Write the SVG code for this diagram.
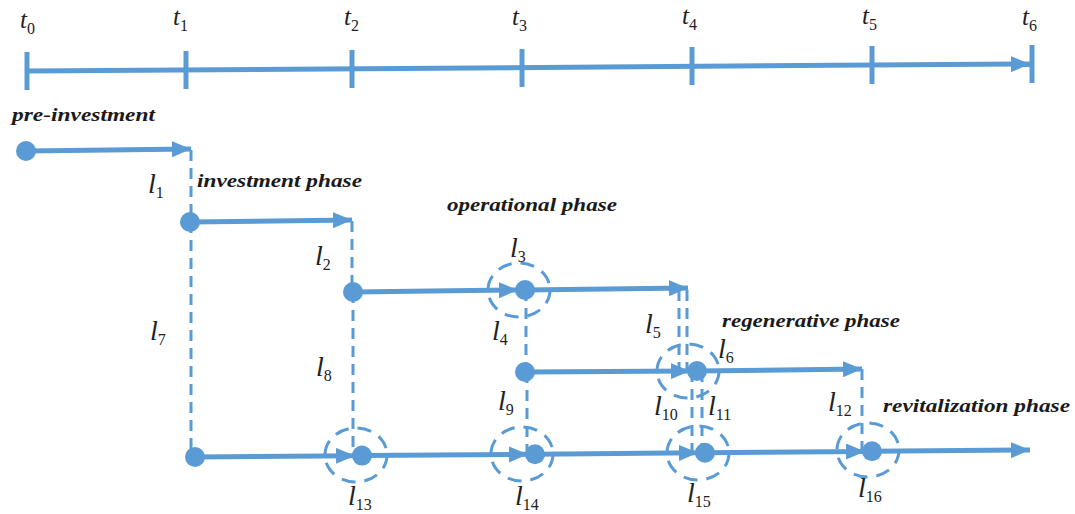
<svg xmlns="http://www.w3.org/2000/svg" width="1075" height="514" viewBox="0 0 1075 514">
<defs>
<style>
.ln{stroke:#5b9bd5;stroke-width:5;fill:none}
.tk{stroke:#5b9bd5;stroke-width:5;fill:none}
.ds{stroke:#5b9bd5;stroke-width:3;fill:none;stroke-dasharray:11 7}
.ring{stroke:#5b9bd5;stroke-width:3;fill:none;stroke-dasharray:14 9}
.dot{fill:#5b9bd5}
.var{font-family:"Liberation Serif",serif;font-style:italic;font-size:28px;fill:#222}
.tv{font-family:"Liberation Serif",serif;font-style:italic;font-size:25px;fill:#222}
.sub{font-style:normal;font-size:16px}
.ph{font-family:"Liberation Serif",serif;font-style:italic;font-weight:bold;font-size:19px;fill:#1a1a1a}
</style>
<marker id="ah" viewBox="0 0 19 16" refX="19" refY="8" markerWidth="19" markerHeight="16" markerUnits="userSpaceOnUse" orient="auto">
<path d="M0,0 L19,8 L0,16 z" fill="#5b9bd5"/>
</marker>
</defs>
<rect width="1075" height="514" fill="#fff"/>

<g id="timeline">
<line class="ln" x1="27" y1="71" x2="1030" y2="64" marker-end="url(#ah)"/>
<line class="tk" x1="27" y1="52" x2="27" y2="90"/>
<line class="tk" x1="186" y1="51" x2="186" y2="89"/>
<line class="tk" x1="352" y1="50" x2="352" y2="88"/>
<line class="tk" x1="522" y1="49" x2="522" y2="87"/>
<line class="tk" x1="692" y1="47" x2="692" y2="85"/>
<line class="tk" x1="872" y1="46" x2="872" y2="84"/>
<line class="tk" x1="1032" y1="45" x2="1032" y2="83"/>
<text class="tv" x="20" y="28">t<tspan class="sub" dy="6">0</tspan></text>
<text class="tv" x="173" y="25">t<tspan class="sub" dy="6">1</tspan></text>
<text class="tv" x="344" y="25">t<tspan class="sub" dy="6">2</tspan></text>
<text class="tv" x="512" y="25">t<tspan class="sub" dy="6">3</tspan></text>
<text class="tv" x="682" y="24">t<tspan class="sub" dy="6">4</tspan></text>
<text class="tv" x="862" y="24">t<tspan class="sub" dy="6">5</tspan></text>
<text class="tv" x="1022" y="25">t<tspan class="sub" dy="6">6</tspan></text>
</g>

<g id="connectors">
<line class="ln" x1="26" y1="151" x2="191" y2="149" marker-end="url(#ah)"/>
<line class="ln" x1="190" y1="222" x2="352" y2="220" marker-end="url(#ah)"/>
<line class="ln" x1="353" y1="292" x2="518" y2="290" marker-end="url(#ah)"/>
<line class="ln" x1="525" y1="290" x2="688" y2="288" marker-end="url(#ah)"/>
<line class="ln" x1="525" y1="372" x2="690" y2="371" marker-end="url(#ah)"/>
<line class="ln" x1="697" y1="371" x2="862" y2="369" marker-end="url(#ah)"/>
<line class="ln" x1="195" y1="457" x2="355" y2="455.7" marker-end="url(#ah)"/>
<line class="ln" x1="362" y1="455.6" x2="528" y2="454.3" marker-end="url(#ah)"/>
<line class="ln" x1="535" y1="454.2" x2="698" y2="452.8" marker-end="url(#ah)"/>
<line class="ln" x1="705" y1="452.7" x2="865" y2="451.4" marker-end="url(#ah)"/>
<line class="ln" x1="872" y1="451.3" x2="1030" y2="450" marker-end="url(#ah)"/>
<line class="ds" x1="191" y1="150" x2="191" y2="222"/>
<line class="ds" x1="352" y1="221" x2="352" y2="292"/>
<line class="ds" x1="191" y1="222" x2="191" y2="457"/>
<line class="ds" x1="353" y1="292" x2="353" y2="455"/>
<line class="ds" x1="526" y1="290" x2="526" y2="372"/>
<line class="ds" x1="679" y1="290" x2="679" y2="371"/>
<line class="ds" x1="687" y1="290" x2="687" y2="371"/>
<line class="ds" x1="527" y1="372" x2="527" y2="454"/>
<line class="ds" x1="692" y1="371" x2="692" y2="453"/>
<line class="ds" x1="702" y1="371" x2="702" y2="453"/>
<line class="ds" x1="862" y1="369" x2="862" y2="451"/>
</g>

<g id="n-pre"><circle class="dot" cx="26" cy="151" r="10"/></g>
<g id="n-inv"><circle class="dot" cx="190" cy="222" r="10"/></g>
<g id="n-op"><circle class="dot" cx="353" cy="292" r="10"/></g>
<g id="n-l3"><ellipse class="ring" cx="519" cy="290" rx="31" ry="27"/><circle class="dot" cx="525" cy="290" r="10"/></g>
<g id="n-reg"><circle class="dot" cx="525" cy="372" r="10"/></g>
<g id="n-l6"><ellipse class="ring" cx="688" cy="371" rx="31" ry="27"/><circle class="dot" cx="697" cy="371" r="10"/></g>
<g id="n-rev"><circle class="dot" cx="195" cy="457" r="10"/></g>
<g id="n-l13"><ellipse class="ring" cx="356" cy="455" rx="31" ry="27"/><circle class="dot" cx="362" cy="455.6" r="10"/></g>
<g id="n-l14"><ellipse class="ring" cx="522" cy="454" rx="31" ry="27"/><circle class="dot" cx="535" cy="454.2" r="10"/></g>
<g id="n-l15"><ellipse class="ring" cx="698" cy="453" rx="31" ry="27"/><circle class="dot" cx="705" cy="452.7" r="10"/></g>
<g id="n-l16"><ellipse class="ring" cx="868" cy="450" rx="31" ry="27"/><circle class="dot" cx="872" cy="451.3" r="10"/></g>

<g id="phase-labels">
<text class="ph" x="12" y="121" textLength="143" lengthAdjust="spacingAndGlyphs">pre-investment</text>
<text class="ph" x="197" y="187" textLength="165" lengthAdjust="spacingAndGlyphs">investment phase</text>
<text class="ph" x="447" y="211" textLength="170" lengthAdjust="spacingAndGlyphs">operational phase</text>
<text class="ph" x="722" y="327" textLength="178" lengthAdjust="spacingAndGlyphs">regenerative phase</text>
<text class="ph" x="883" y="412" textLength="187" lengthAdjust="spacingAndGlyphs">revitalization phase</text>
</g>

<g id="link-labels">
<text class="var" x="148" y="193">l<tspan class="sub" dy="5">1</tspan></text>
<text class="var" x="315" y="265">l<tspan class="sub" dy="5">2</tspan></text>
<text class="var" x="510" y="257">l<tspan class="sub" dy="5">3</tspan></text>
<text class="var" x="492" y="340">l<tspan class="sub" dy="5">4</tspan></text>
<text class="var" x="645" y="333">l<tspan class="sub" dy="5">5</tspan></text>
<text class="var" x="718" y="358">l<tspan class="sub" dy="5">6</tspan></text>
<text class="var" x="150" y="340">l<tspan class="sub" dy="5">7</tspan></text>
<text class="var" x="316" y="376">l<tspan class="sub" dy="5">8</tspan></text>
<text class="var" x="498" y="410">l<tspan class="sub" dy="5">9</tspan></text>
<text class="var" x="654" y="415">l<tspan class="sub" dy="5">10</tspan></text>
<text class="var" x="708" y="415">l<tspan class="sub" dy="5">11</tspan></text>
<text class="var" x="828" y="411">l<tspan class="sub" dy="5">12</tspan></text>
<text class="var" x="348" y="505">l<tspan class="sub" dy="5">13</tspan></text>
<text class="var" x="515" y="505">l<tspan class="sub" dy="5">14</tspan></text>
<text class="var" x="687" y="502">l<tspan class="sub" dy="5">15</tspan></text>
<text class="var" x="858" y="497">l<tspan class="sub" dy="5">16</tspan></text>
</g>
</svg>
